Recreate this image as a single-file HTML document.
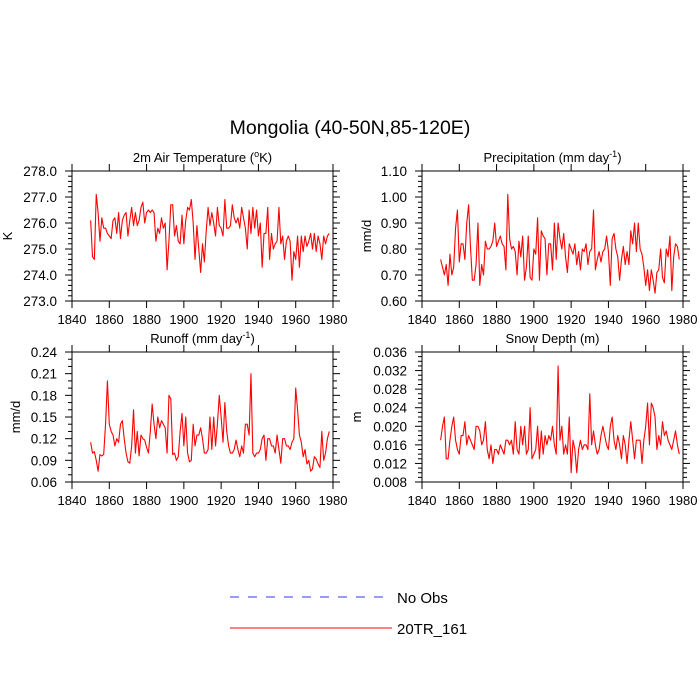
<!DOCTYPE html>
<html><head><meta charset="utf-8"><style>
html,body{margin:0;padding:0;background:#fff;}
svg{display:block;font-family:"Liberation Sans",sans-serif;}
</style></head><body>
<svg id="chart" width="700" height="700" viewBox="0 0 700 700">
<text x="350" y="134" font-size="19.5" text-anchor="middle">Mongolia (40-50N,85-120E)</text>
<g>
<line x1="230" y1="597" x2="386" y2="597" stroke="#3333ff" stroke-width="1" stroke-dasharray="9,9"/>
<text x="397" y="603" font-size="15">No Obs</text>
<line x1="230" y1="628" x2="392" y2="628" stroke="#ff0000" stroke-width="1"/>
<text x="397" y="634" font-size="15">20TR_161</text>
</g>
</svg>
<script>
const years0 = 1850;
const tempValues = [276.1,274.7,274.6,277.1,276.4,275.3,276.2,275.8,275.8,275.6,
275.5,275.4,276.1,276.2,275.6,276.4,275.4,276.1,276.3,276.4,
275.5,276.1,276.6,275.9,276.4,275.9,276.1,276.6,276.8,276.0,
276.4,276.5,276.4,276.5,276.4,275.3,275.8,275.6,276.2,275.8,
276.0,274.2,275.3,276.7,276.7,275.5,275.9,275.3,275.2,276.3,
275.2,276.1,276.6,276.5,276.9,276.0,274.6,275.9,275.0,274.1,
275.2,274.5,275.7,276.6,275.9,276.4,276.0,275.5,276.6,275.9,
275.8,275.5,276.9,275.8,275.8,275.9,276.7,276.2,276.0,276.2,
275.8,276.6,276.2,275.8,275.0,276.5,275.6,276.6,275.8,276.5,
275.5,276.0,274.3,275.6,275.6,276.6,274.6,275.6,275.0,275.2,
275.3,276.6,275.2,275.5,274.6,275.3,275.5,275.3,273.8,274.9,
274.6,275.5,274.3,275.5,274.9,275.5,275.1,275.3,275.6,275.0,
275.6,274.9,275.5,275.2,274.6,275.5,275.2,275.5,275.6];
const precipValues = [.76,.73,.70,.74,.66,.78,.70,.73,.88,.95,
.75,.82,.82,.76,.90,.97,.81,.68,.68,.74,
.90,.66,.74,.70,.83,.80,.80,.81,.83,.90,
.81,.83,.85,.82,.81,.72,1.01,.84,.80,.81,
.79,.70,.83,.77,.85,.68,.73,.85,.69,.68,
.80,.78,.92,.68,.87,.85,.84,.70,.82,.82,
.72,.90,.76,.90,.84,.80,.86,.77,.71,.82,
.80,.78,.82,.74,.79,.72,.80,.79,.82,.74,
.79,.80,.95,.72,.76,.79,.75,.79,.80,.85,
.79,.66,.84,.86,.80,.77,.68,.76,.81,.74,
.79,.74,.87,.82,.90,.79,.90,.80,.78,.73,
.66,.72,.64,.72,.68,.63,.71,.72,.80,.69,
.67,.80,.77,.85,.64,.77,.82,.81,.76];
const runoffValues = [.115,.100,.102,.090,.075,.098,.096,.098,.140,.200,
.140,.130,.125,.110,.120,.115,.140,.145,.120,.100,
.088,.086,.110,.160,.100,.130,.096,.125,.120,.118,
.108,.100,.130,.168,.140,.120,.150,.135,.145,.140,
.135,.100,.180,.175,.098,.100,.090,.095,.130,.155,
.110,.150,.100,.088,.090,.140,.110,.125,.125,.135,
.120,.100,.100,.105,.150,.105,.150,.110,.140,.180,
.150,.115,.170,.130,.110,.100,.100,.105,.118,.105,
.095,.110,.100,.140,.140,.125,.210,.100,.095,.100,
.100,.105,.120,.125,.090,.120,.120,.110,.110,.100,
.125,.105,.086,.120,.120,.110,.110,.105,.115,.120,
.190,.160,.125,.115,.095,.105,.085,.090,.075,.078,
.095,.092,.085,.080,.130,.090,.100,.120,.130];
const snowValues = [.017,.020,.022,.013,.013,.017,.020,.022,.017,.015,
.014,.018,.018,.021,.016,.018,.017,.016,.015,.020,
.020,.019,.016,.017,.021,.015,
.013,.016,.012,.015,.015,.014,.016,.015,
.014,.017,.017,.016,.017,.014,.021,.015,.014,.020,
.016,.020,.014,.015,.024,.013,.014,.015,.020,.013,
.019,.014,.018,.016,.018,.017,.020,.016,.014,.033,
.017,.020,.014,.016,.014,.022,.010,.017,.015,.010,
.015,.017,.015,.016,.016,.015,.027,.016,.019,.016,
.014,.015,.018,.020,.018,.016,.015,.020,.022,.017,
.015,.018,.016,.013,.018,.016,.012,.017,.021,.017,
.013,.017,.017,.017,.012,.017,.020,.025,.016,.025,
.024,.022,.015,.018,.016,.021,.018,.019,.017,.016,.015,.017,.019,.016,.014];
const xTickLabels = ["1840","1860","1880","1900","1920","1940","1960","1980"];
const tempTicks = ["273.0","274.0","275.0","276.0","277.0","278.0"];
const precipTicks = ["0.60","0.70","0.80","0.90","1.00","1.10"];
const runoffTicks = ["0.06","0.09","0.12","0.15","0.18","0.21","0.24"];
const snowTicks = ["0.008","0.012","0.016","0.020","0.024","0.028","0.032","0.036"];

const NS = "http://www.w3.org/2000/svg";
const svg = document.getElementById('chart');
function mk(tag, attrs, parent){
  const e = document.createElementNS(NS, tag);
  for (const k in attrs) e.setAttribute(k, attrs[k]);
  parent.appendChild(e); return e;
}
function panel(cfg){
  const g = mk('g', {}, svg);
  
  
  const L=cfg.x0, R=cfg.x1, T=cfg.y0, B=cfg.y1;
  const xs = yr => L + (yr-1840)/(1980-1840)*(R-L);
  const ymin = parseFloat(cfg.ticks[0]), ymax = parseFloat(cfg.ticks[cfg.ticks.length-1]);
  const ys = v => B - (v-ymin)/(ymax-ymin)*(B-T);
  const frame = mk('rect', {x:L,y:T,width:R-L,height:B-T,fill:'none',stroke:'#000','stroke-width':1}, g);
  
  
  xTickLabels.forEach(lab => {
    const x = xs(parseFloat(lab));
    mk('line',{x1:x,y1:B,x2:x,y2:B+7,stroke:'#000'},g);
    mk('line',{x1:x,y1:T,x2:x,y2:T-7,stroke:'#000'},g);
    const t = mk('text',{x:x,y:B+23,'font-size':13,'text-anchor':'middle'},g);
    t.textContent = lab;
    
    
  });
  const nMaj = cfg.ticks.length;
  for (let i=0;i<nMaj;i++){
    const v = parseFloat(cfg.ticks[i]); const y = ys(v);
    mk('line',{x1:L,y1:y,x2:L-7,y2:y,stroke:'#000'},g);
    mk('line',{x1:R,y1:y,x2:R+7,y2:y,stroke:'#000'},g);
    const t = mk('text',{x:L-15,y:y+5,'font-size':13.5,'text-anchor':'end'},g);
    t.textContent = cfg.ticks[i];
    
    
    if (i<nMaj-1){
      const v2 = parseFloat(cfg.ticks[i+1]);
      for (let k=1;k<cfg.minor;k++){
        const ym = ys(v + (v2-v)*k/cfg.minor);
        mk('line',{x1:L,y1:ym,x2:L-4,y2:ym,stroke:'#000'},g);
        mk('line',{x1:R,y1:ym,x2:R+4,y2:ym,stroke:'#000'},g);
      }
    }
  }
  const title = mk('text',{x:(L+R)/2,y:T-9,'font-size':13,'text-anchor':'middle'},g);
  title.innerHTML = cfg.title;
  
  
  const yt = mk('text',{x:0,y:0,'font-size':13,'text-anchor':'middle',transform:`translate(${cfg.ytx},${(T+B)/2}) rotate(-90)`},g);
  yt.textContent = cfg.ylabel;
  
  
  const pts = cfg.values.map((v,i)=> xs(years0+i).toFixed(2)+','+ys(v).toFixed(2)).join(' ');
  const line = mk('polyline',{points:pts,fill:'none',stroke:'#ff0000','stroke-width':1.1,'stroke-linejoin':'round'},g);
  
  
}
panel({name:'panel-air-temperature',x0:72,x1:333,y0:171,y1:301,ticks:tempTicks,minor:5,values:tempValues,
  title:'2m Air Temperature (<tspan baseline-shift="super" font-size="9">o</tspan>K)',ylabel:'K',ytx:12});
panel({name:'panel-precipitation',x0:422,x1:683,y0:171,y1:301,ticks:precipTicks,minor:5,values:precipValues,
  title:'Precipitation (mm day<tspan baseline-shift="super" font-size="9">-1</tspan>)',ylabel:'mm/d',ytx:371});
panel({name:'panel-runoff',x0:72,x1:333,y0:352,y1:482,ticks:runoffTicks,minor:3,values:runoffValues,
  title:'Runoff (mm day<tspan baseline-shift="super" font-size="9">-1</tspan>)',ylabel:'mm/d',ytx:20});
panel({name:'panel-snow-depth',x0:422,x1:683,y0:352,y1:482,ticks:snowTicks,minor:4,values:snowValues,
  title:'Snow Depth (m)',ylabel:'m',ytx:361});
</script>
</body></html>
